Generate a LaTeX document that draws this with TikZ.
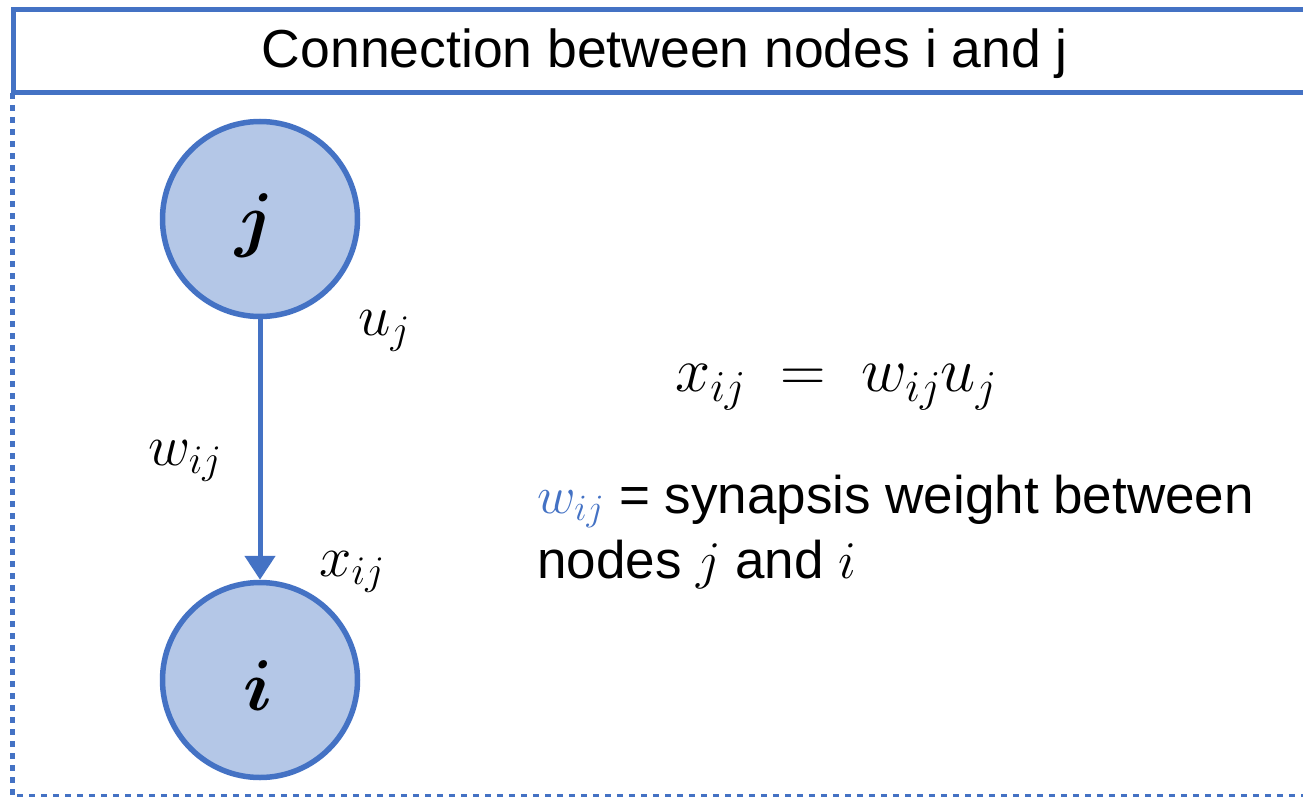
\documentclass[tikz,border=0pt]{standalone}
\usepackage{fix-cm}
\usepackage{amsmath,bm}
\usepackage{fontspec}
\setmainfont{Liberation Sans}
\usetikzlibrary{arrows.meta}
\definecolor{bblue}{HTML}{4472C4}
\definecolor{lblue}{HTML}{B4C7E7}
\tikzset{
  neuron/.style={circle, draw=bblue, fill=lblue, line width=5.5pt, minimum size=195pt, inner sep=0pt},
  conn/.style={draw=bblue, line width=5pt, -{Triangle[length=24pt,width=30pt]}},
  lbl/.style={inner sep=0pt, font=\fontsize{58}{64}\selectfont},
  txt/.style={inner sep=0pt, anchor=base west, font=\fontsize{53}{58}\selectfont}
}
\begin{document}
\begin{tikzpicture}[x=1pt,y=-1pt]
\useasboundingbox (0,0) rectangle (1303,797);
% dashed outer frame
\draw[bblue, line width=5pt, dash pattern=on 6pt off 6pt] (12,93) -- (12,796) -- (1310,796);
% title box
\draw[bblue, line width=5pt] (1310,10) -- (13,10) -- (13,93) -- (1310,93);
\node[inner sep=0pt, font=\fontsize{53.5}{60}\selectfont] (title) at (665,54) {Connection between nodes i and j};
% neurons
\node[neuron] (j) at (260,219) {};
\node[neuron] (i) at (260,680) {};
\node[inner sep=0pt, font=\fontsize{72}{78}\selectfont] (jl) at (255,226) {$\bm{j}$};
\node[inner sep=0pt, font=\fontsize{72}{78}\selectfont] (il) at (258,686) {$\bm{i}$};
\draw[conn] (j) -- (i);
% labels
\node[lbl] (uj) at (384,331) {$u_j$};
\node[lbl] (wij) at (185,461) {$w_{ij}$};
\node[lbl] (xij) at (352,572) {$x_{ij}$};
\node[inner sep=0pt, font=\fontsize{63}{70}\selectfont] (eq) at (836,387) {$x_{ij}\;=\;w_{ij}u_j$};
\node[txt] (t1) at (537,513) {\textcolor{bblue}{$w_{ij}$} = synapsis weight between};
\node[txt] (t2) at (537,578) {nodes $j$ and $i$};
\end{tikzpicture}
\end{document}
